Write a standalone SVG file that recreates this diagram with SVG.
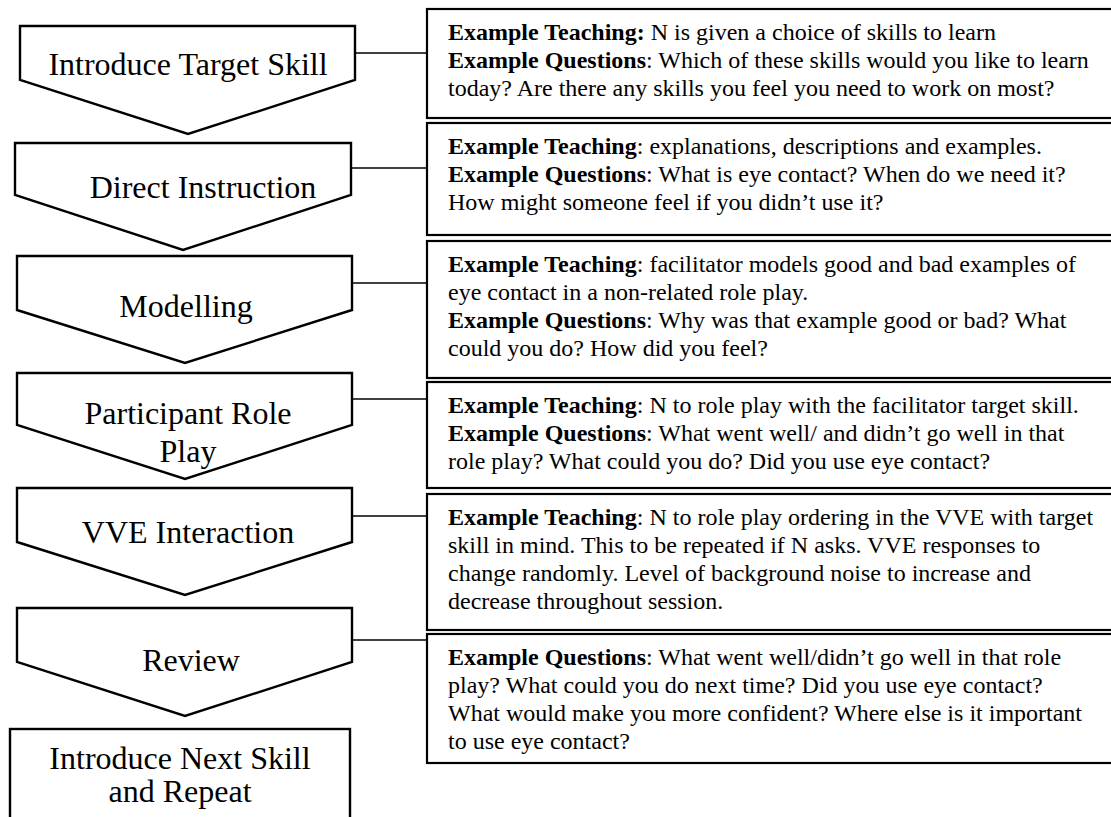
<svg xmlns="http://www.w3.org/2000/svg" width="1111" height="817" viewBox="0 0 1111 817">
  <style>
    .step { fill: #fff; stroke: #000; stroke-width: 2.4; stroke-linejoin: miter; }
    .box { fill: #fff; stroke: #000; stroke-width: 2.2; }
    .link { stroke: #000; stroke-width: 1.6; fill: none; }
    .lbl { font-family: "Liberation Serif", "Times New Roman", serif; font-size: 32px; fill: #000; text-anchor: middle; }
    .note { font-family: "Liberation Serif", "Times New Roman", serif; font-size: 24px; fill: #000; }
    .b { font-weight: bold; }
  </style>
  <rect width="1111" height="817" fill="#fff"/>

  <!-- connectors: each step to its notes box -->
  <g id="connectors">
    <line class="link" x1="355" y1="53" x2="427" y2="53"/>
    <line class="link" x1="351" y1="168" x2="427" y2="168"/>
    <line class="link" x1="352" y1="283" x2="427" y2="283"/>
    <line class="link" x1="352" y1="399" x2="427" y2="399"/>
    <line class="link" x1="352" y1="516" x2="427" y2="516"/>
    <line class="link" x1="352" y1="640" x2="427" y2="640"/>
  </g>

  <!-- process steps (downward chevrons) -->
  <g id="step-introduce">
    <polygon class="step" points="20,26 355,26 355,80 188,134 20,80"/>
    <text class="lbl" x="188" y="75">Introduce Target Skill</text>
  </g>
  <g id="step-direct">
    <polygon class="step" points="15,143 351,143 351,195 183,250 15,195"/>
    <text class="lbl" x="203" y="198">Direct Instruction</text>
  </g>
  <g id="step-modelling">
    <polygon class="step" points="17,256 352,256 352,310 185,363 17,310"/>
    <text class="lbl" x="186" y="317">Modelling</text>
  </g>
  <g id="step-roleplay">
    <polygon class="step" points="17,373 352,373 352,425 185,479 17,425"/>
    <text class="lbl" x="188" y="424">Participant Role</text>
    <text class="lbl" x="188" y="462">Play</text>
  </g>
  <g id="step-vve">
    <polygon class="step" points="17,488 352,488 352,542 185,595 17,542"/>
    <text class="lbl" x="188" y="543">VVE Interaction</text>
  </g>
  <g id="step-review">
    <polygon class="step" points="17,608 352,608 352,662 185,716 17,662"/>
    <text class="lbl" x="191" y="671">Review</text>
  </g>
  <g id="step-next">
    <rect class="step" x="10" y="729" width="340" height="110"/>
    <text class="lbl" x="180" y="769">Introduce Next Skill</text>
    <text class="lbl" x="180" y="802">and Repeat</text>
  </g>

  <!-- notes boxes -->
  <g id="notes-introduce">
    <rect class="box" x="427" y="9" width="700" height="109"/>
    <text class="note" x="448" y="40"><tspan class="b">Example Teaching:</tspan> N is given a choice of skills to learn</text>
    <text class="note" x="448" y="68"><tspan class="b">Example Questions</tspan>: Which of these skills would you like to learn</text>
    <text class="note" x="448" y="96">today? Are there any skills you feel you need to work on most?</text>
  </g>
  <g id="notes-direct">
    <rect class="box" x="427" y="123" width="700" height="112"/>
    <text class="note" x="448" y="154"><tspan class="b">Example Teaching</tspan>: explanations, descriptions and examples.</text>
    <text class="note" x="448" y="182"><tspan class="b">Example Questions</tspan>: What is eye contact? When do we need it?</text>
    <text class="note" x="448" y="210">How might someone feel if you didn’t use it?</text>
  </g>
  <g id="notes-modelling">
    <rect class="box" x="427" y="241" width="700" height="137"/>
    <text class="note" x="448" y="272"><tspan class="b">Example Teaching</tspan>: facilitator models good and bad examples of</text>
    <text class="note" x="448" y="300">eye contact in a non-related role play.</text>
    <text class="note" x="448" y="328"><tspan class="b">Example Questions</tspan>: Why was that example good or bad? What</text>
    <text class="note" x="448" y="356">could you do? How did you feel?</text>
  </g>
  <g id="notes-roleplay">
    <rect class="box" x="427" y="382" width="700" height="106"/>
    <text class="note" x="448" y="413"><tspan class="b">Example Teaching</tspan>: N to role play with the facilitator target skill.</text>
    <text class="note" x="448" y="441"><tspan class="b">Example Questions</tspan>: What went well/ and didn’t go well in that</text>
    <text class="note" x="448" y="469">role play? What could you do? Did you use eye contact?</text>
  </g>
  <g id="notes-vve">
    <rect class="box" x="427" y="494" width="700" height="136"/>
    <text class="note" x="448" y="525"><tspan class="b">Example Teaching</tspan>: N to role play ordering in the VVE with target</text>
    <text class="note" x="448" y="553">skill in mind. This to be repeated if N asks. VVE responses to</text>
    <text class="note" x="448" y="581">change randomly. Level of background noise to increase and</text>
    <text class="note" x="448" y="609">decrease throughout session.</text>
  </g>
  <g id="notes-review">
    <rect class="box" x="427" y="634" width="700" height="129"/>
    <text class="note" x="448" y="665"><tspan class="b">Example Questions</tspan>: What went well/didn’t go well in that role</text>
    <text class="note" x="448" y="693">play? What could you do next time? Did you use eye contact?</text>
    <text class="note" x="448" y="721">What would make you more confident? Where else is it important</text>
    <text class="note" x="448" y="749">to use eye contact?</text>
  </g>
</svg>
